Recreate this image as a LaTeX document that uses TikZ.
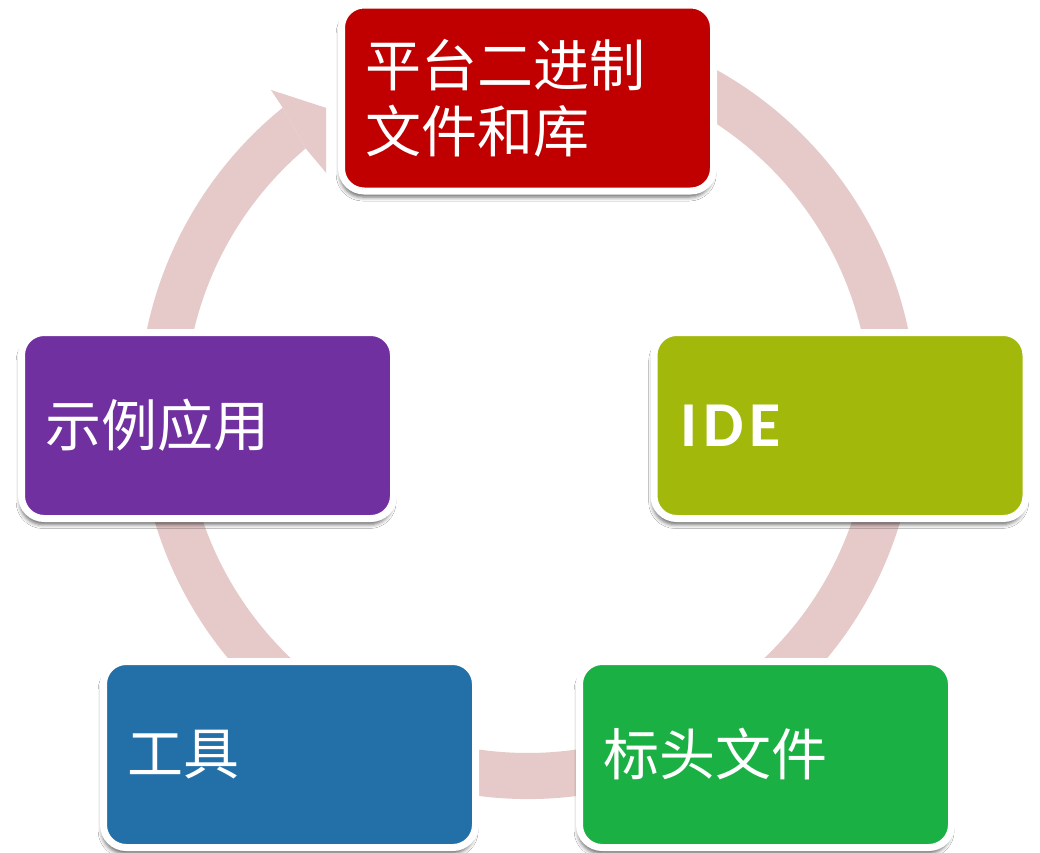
\documentclass[tikz,border=0pt]{standalone}
\usepackage{fontspec}
\newfontfamily\cjk{Noto Sans CJK SC}
\newfontfamily\idefont[LetterSpace=9]{Carlito}
\usetikzlibrary{shadows.blur}
\definecolor{ringc}{RGB}{230,201,201}
\definecolor{cred}{RGB}{192,0,0}
\definecolor{colive}{RGB}{162,185,12}
\definecolor{cgreen}{RGB}{27,176,68}
\definecolor{cblue}{RGB}{35,112,168}
\definecolor{cpurple}{RGB}{112,48,160}
\tikzset{
  box/.style={rectangle, rounded corners=17pt, draw=white, line width=5.25pt,
    minimum width=279pt, minimum height=139.5pt, text width=243pt,
    inner xsep=18pt, inner ysep=0pt, align=left, text=white,
    font=\cjk\fontsize{42pt}{49.5pt}\selectfont,
    blur shadow={shadow xshift=-1pt, shadow yshift=-4.5pt, shadow blur radius=3pt, shadow opacity=60}},
}
\begin{document}
\begin{tikzpicture}[x=0.75pt,y=-0.75pt]
\useasboundingbox (0,0) rectangle (1040,853);
\fill[white] (0,0) rectangle (1040,853);
\coordinate (c) at (527.5,410);
% ring band
\fill[ringc] ([shift={(527.5,410)}]-80:389) arc[start angle=-80,end angle=231,radius=389]
  -- ([shift={(527.5,410)}]229.7:343) arc[start angle=229.7,end angle=-80,radius=343] -- cycle;
% arrow head (partly hidden behind the top box)
\begin{scope}
\clip (0,0) rectangle (326,853);
\fill[ringc] (271,90) -- (380,125.4) -- (334.6,182.9)
  -- ([shift={(527.5,410)}]229.7:343) -- ([shift={(527.5,410)}]231:389) -- cycle;
\end{scope}
% boxes
\node[box, fill=cred] (lib) at (527.5,98) {\raisebox{3pt}{平台二进制}\\\raisebox{3pt}{文件和库}};
\node[box, fill=colive, font=\idefont\bfseries\fontsize{48pt}{54pt}\selectfont, inner xsep=20pt, text width=239pt] (ide) at (840,425.5) {IDE};
\node[box, fill=cgreen] (hdr) at (765.5,754.5) {\raisebox{3pt}{标头文件}};
\node[box, fill=cblue] (tools) at (289.5,754.5) {\raisebox{3pt}{工具}};
\node[box, fill=cpurple] (apps) at (207.5,425.5) {\raisebox{3pt}{示例应用}};
\end{tikzpicture}
\end{document}
